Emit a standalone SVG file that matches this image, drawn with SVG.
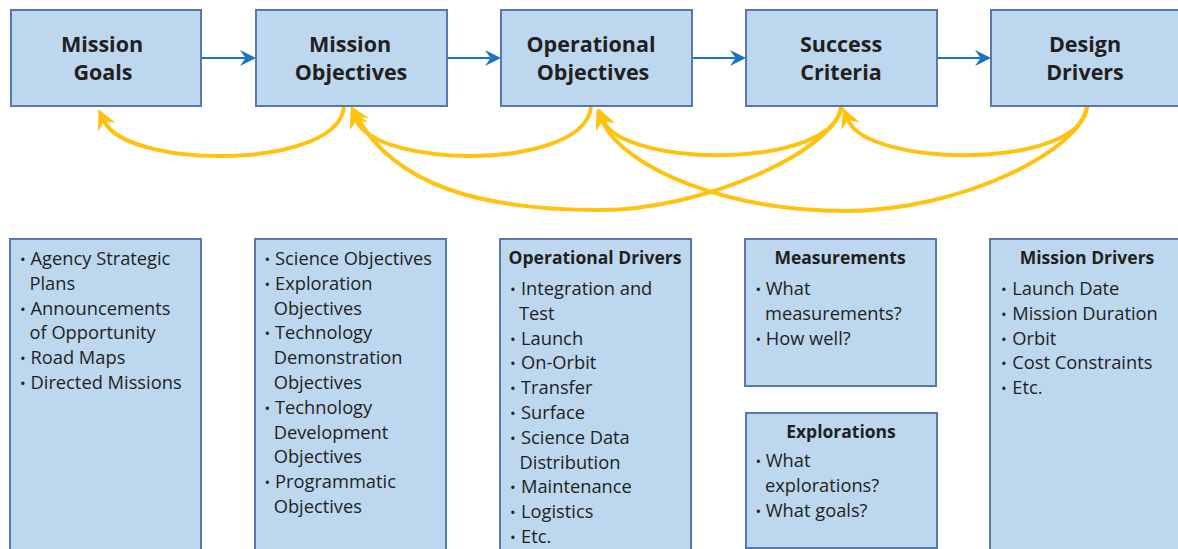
<svg xmlns="http://www.w3.org/2000/svg" width="1178" height="549" viewBox="0 0 1178 549">
<style>
.box{fill:#bdd7ee;stroke:#5479aa;stroke-width:2}
.title{font-family:"Open Sans","Noto Sans",sans-serif;font-weight:700;font-size:21.5px;fill:#231f20;text-anchor:middle}
.hdr{font-family:"Open Sans","Noto Sans",sans-serif;font-weight:700;font-size:17.5px;fill:#231f20;text-anchor:middle}
.t{font-family:"Open Sans","Noto Sans",sans-serif;font-size:18.3px;fill:#231f20}
.b{font-size:15px}
.blue{fill:none;stroke:#1b75bc;stroke-width:2}
.yel{fill:none;stroke:#ffc20e;stroke-width:4}
</style>
<defs>
<marker id="ab" markerUnits="userSpaceOnUse" viewBox="-7 -9 19 18" markerWidth="19" markerHeight="18" refX="0" refY="0" orient="auto">
<path d="M10.5,0 L-5.5,-8 L0,0 L-5.5,8 Z" fill="#1b75bc"/>
</marker>
<marker id="ay" markerUnits="userSpaceOnUse" viewBox="-9 -11 24 22" markerWidth="24" markerHeight="22" refX="0" refY="0" orient="auto">
<path d="M13,0 L-7,-10 L0,0 L-7,10 Z" fill="#ffc20e"/>
</marker>
</defs>

<g id="connectors">
<line class="blue" x1="201" y1="58" x2="245.5" y2="58" marker-end="url(#ab)"/>
<line class="blue" x1="447" y1="58" x2="490.5" y2="58" marker-end="url(#ab)"/>
<line class="blue" x1="692" y1="58" x2="735.5" y2="58" marker-end="url(#ab)"/>
<line class="blue" x1="937" y1="58" x2="980.5" y2="58" marker-end="url(#ab)"/>
<path class="yel" d="M344,106 C340,170 128,170 104,121" marker-end="url(#ay)"/>
<path class="yel" d="M591,106 C587,170 378,170 356,120" marker-end="url(#ay)"/>
<path class="yel" d="M842,106 C835,150 705,210 600,210 C480,210 395,185 357,117" marker-end="url(#ay)"/>
<path class="yel" d="M1087,106 C1082,150 960,211 846,211 C730,211 625,170 602,121" marker-end="url(#ay)"/>
<path class="yel" d="M841,106 C836,170 622,168 603,120" marker-end="url(#ay)"/>
<path class="yel" d="M1087,106 C1083,170 868,168 848,120" marker-end="url(#ay)"/>
</g>

<g id="mission-goals">
<rect class="box" x="11" y="10" width="190" height="96"/>
<text class="title" x="102" y="52">Mission</text>
<text class="title" x="103" y="80">Goals</text>
</g>
<g id="mission-objectives">
<rect class="box" x="256" y="10" width="191" height="96"/>
<text class="title" x="350" y="52">Mission</text>
<text class="title" x="351" y="80">Objectives</text>
</g>
<g id="operational-objectives">
<rect class="box" x="501" y="10" width="191" height="96"/>
<text class="title" x="591" y="52">Operational</text>
<text class="title" x="593" y="80">Objectives</text>
</g>
<g id="success-criteria">
<rect class="box" x="746" y="10" width="191" height="96"/>
<text class="title" x="841" y="52">Success</text>
<text class="title" x="841" y="80">Criteria</text>
</g>
<g id="design-drivers">
<rect class="box" x="991" y="10" width="191" height="96"/>
<text class="title" x="1085" y="52">Design</text>
<text class="title" x="1085" y="80">Drivers</text>
</g>

<g id="goals-sources">
<rect class="box" x="10" y="239" width="191" height="320"/>
<text class="t"><tspan class="b" x="20" y="265">•</tspan><tspan x="30.5" y="265">Agency Strategic</tspan><tspan x="29.5" y="289.8">Plans</tspan><tspan class="b" x="20" y="314.6">•</tspan><tspan x="30.5" y="314.6">Announcements</tspan><tspan x="29.5" y="339.4">of Opportunity</tspan><tspan class="b" x="20" y="364.2">•</tspan><tspan x="30.5" y="364.2">Road Maps</tspan><tspan class="b" x="20" y="389">•</tspan><tspan x="30.5" y="389">Directed Missions</tspan></text>
</g>
<g id="objective-types">
<rect class="box" x="255" y="239" width="191" height="320"/>
<text class="t"><tspan class="b" x="264.5" y="265">•</tspan><tspan x="275" y="265">Science Objectives</tspan><tspan class="b" x="264.5" y="289.8">•</tspan><tspan x="275" y="289.8">Exploration</tspan><tspan x="273.7" y="314.6">Objectives</tspan><tspan class="b" x="264.5" y="339.4">•</tspan><tspan x="275" y="339.4">Technology</tspan><tspan x="273.7" y="364.2">Demonstration</tspan><tspan x="273.7" y="389">Objectives</tspan><tspan class="b" x="264.5" y="413.8">•</tspan><tspan x="275" y="413.8">Technology</tspan><tspan x="273.7" y="438.6">Development</tspan><tspan x="273.7" y="463.4">Objectives</tspan><tspan class="b" x="264.5" y="488.2">•</tspan><tspan x="275" y="488.2">Programmatic</tspan><tspan x="273.7" y="513">Objectives</tspan></text>
</g>
<g id="operational-drivers">
<rect class="box" x="500" y="239" width="191" height="320"/>
<text class="hdr" x="595" y="264">Operational Drivers</text>
<text class="t"><tspan class="b" x="510" y="295">•</tspan><tspan x="521" y="295">Integration and</tspan><tspan x="519" y="319.8">Test</tspan><tspan class="b" x="510" y="344.6">•</tspan><tspan x="521" y="344.6">Launch</tspan><tspan class="b" x="510" y="369.4">•</tspan><tspan x="521" y="369.4">On-Orbit</tspan><tspan class="b" x="510" y="394.2">•</tspan><tspan x="521" y="394.2">Transfer</tspan><tspan class="b" x="510" y="419">•</tspan><tspan x="521" y="419">Surface</tspan><tspan class="b" x="510" y="443.8">•</tspan><tspan x="521" y="443.8">Science Data</tspan><tspan x="519.5" y="468.6">Distribution</tspan><tspan class="b" x="510" y="493.4">•</tspan><tspan x="521" y="493.4">Maintenance</tspan><tspan class="b" x="510" y="518.2">•</tspan><tspan x="521" y="518.2">Logistics</tspan><tspan class="b" x="510" y="543">•</tspan><tspan x="521" y="543">Etc.</tspan></text>
</g>
<g id="measurements">
<rect class="box" x="745" y="239" width="191" height="147"/>
<text class="hdr" x="840" y="264">Measurements</text>
<text class="t"><tspan class="b" x="755.5" y="295">•</tspan><tspan x="765.7" y="295">What</tspan><tspan x="765" y="319.8">measurements?</tspan><tspan class="b" x="755.5" y="344.6">•</tspan><tspan x="765.7" y="344.6">How well?</tspan></text>
</g>
<g id="explorations">
<rect class="box" x="746" y="413" width="191" height="135"/>
<text class="hdr" x="841" y="438">Explorations</text>
<text class="t"><tspan class="b" x="755.5" y="467.3">•</tspan><tspan x="765.7" y="467.3">What</tspan><tspan x="765" y="492">explorations?</tspan><tspan class="b" x="755.5" y="516.8">•</tspan><tspan x="765.7" y="516.8">What goals?</tspan></text>
</g>
<g id="mission-drivers">
<rect class="box" x="990" y="239" width="191" height="320"/>
<text class="hdr" x="1087" y="264">Mission Drivers</text>
<text class="t"><tspan class="b" x="1001" y="295">•</tspan><tspan x="1012.3" y="295">Launch Date</tspan><tspan class="b" x="1001" y="319.8">•</tspan><tspan x="1012.3" y="319.8">Mission Duration</tspan><tspan class="b" x="1001" y="344.6">•</tspan><tspan x="1012.3" y="344.6">Orbit</tspan><tspan class="b" x="1001" y="369.4">•</tspan><tspan x="1012.3" y="369.4">Cost Constraints</tspan><tspan class="b" x="1001" y="394.2">•</tspan><tspan x="1012.3" y="394.2">Etc.</tspan></text>
</g>
</svg>
